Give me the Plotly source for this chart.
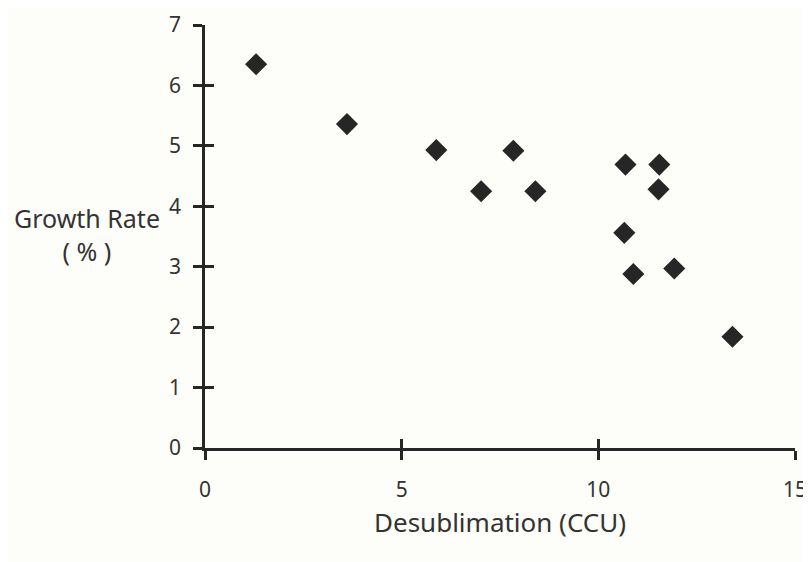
import plotly.graph_objects as go

# Data
desublimation = [1.30, 3.61, 5.88, 7.84, 7.02, 8.40, 10.69, 11.55, 11.53, 10.66, 10.89, 11.93, 13.41]
growth_rate   = [6.35, 5.36, 4.93, 4.92, 4.25, 4.25, 4.69, 4.69, 4.28, 3.56, 2.88, 2.97, 1.84]

x_ticks = [0, 5, 10, 15]
y_ticks = [0, 1, 2, 3, 4, 5, 6, 7]
x_title = "Desublimation (CCU)"
y_title = "Growth Rate<br>( % )"

ink = "#262626"
bg = "#fdfdf9"
family = "Noto Sans, Open Sans, sans-serif"
tick_font = dict(family=family, size=21, color="#333333")
title_font = dict(family=family, size=25, color="#333333")

fig = go.Figure()
fig.add_trace(go.Scatter(
    x=desublimation, y=growth_rate, mode="markers",
    marker=dict(symbol="diamond", size=17, color=ink, line=dict(width=0)),
    cliponaxis=False, showlegend=False, hoverinfo="x+y",
))
# invisible copy hosting the overlay axes (inner half of the crossing ticks)
fig.add_trace(go.Scatter(
    x=desublimation, y=growth_rate, mode="markers", xaxis="x2", yaxis="y2",
    marker=dict(opacity=0), showlegend=False, hoverinfo="skip",
))

common = dict(showgrid=False, zeroline=False, tickfont=tick_font, automargin=False,
              tickcolor=ink, tickwidth=2.5, ticklen=9, ticklabeloverflow="allow")

fig.update_layout(
    width=803, height=554,
    paper_bgcolor=bg, plot_bgcolor=bg,
    margin=dict(l=197, r=16, t=17, b=114),
    xaxis=dict(range=[0, 15], tickmode="array", tickvals=x_ticks,
               ticktext=[str(v) for v in x_ticks], ticks="outside",
               showline=True, linecolor=ink, linewidth=2.5,
               ticklabelstandoff=12, **common),
    yaxis=dict(range=[0, 7], tickmode="array", tickvals=y_ticks,
               ticktext=[str(v) for v in y_ticks], ticks="outside",
               showline=True, linecolor=ink, linewidth=2.5,
               ticklabelstandoff=8, **common),
    xaxis2=dict(range=[0, 15], overlaying="x", anchor="y2", side="bottom",
                tickmode="array", tickvals=x_ticks[1:], ticks="inside",
                showticklabels=False, showline=False, **common),
    yaxis2=dict(range=[0, 7], overlaying="y", anchor="x2", side="left",
                tickmode="array", tickvals=y_ticks[1:], ticks="inside",
                showticklabels=False, showline=False, **common),
    annotations=[
        dict(text=y_title, xref="paper", yref="paper",
             x=-0.2, y=0.505, xanchor="center", yanchor="middle",
             showarrow=False, align="center", font=title_font),
        dict(text=x_title, xref="paper", yref="paper",
             x=0.5, y=0, xanchor="center", yanchor="middle", yshift=-74,
             showarrow=False, font=dict(family=family, size=26, color="#333333")),
    ],
)

fig.write_html("out.html")
